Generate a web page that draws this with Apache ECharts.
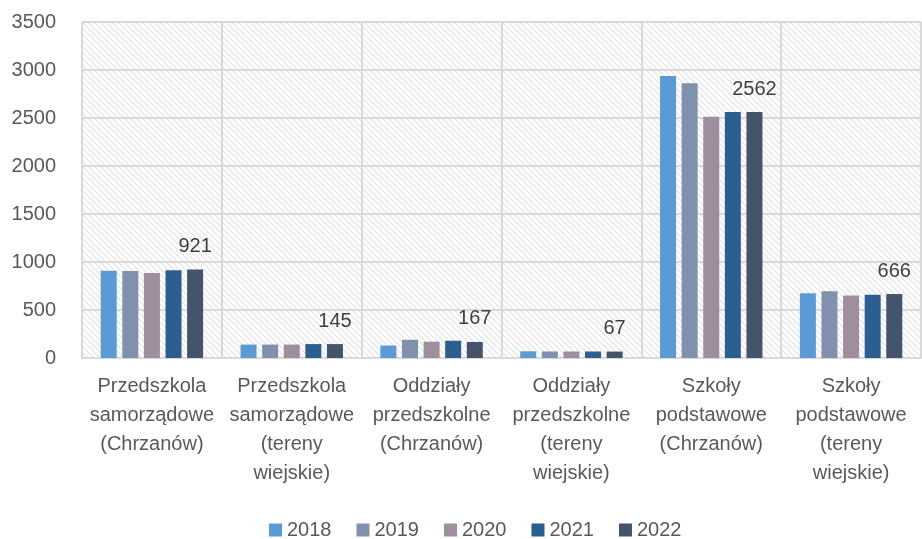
<!DOCTYPE html>
<html>
<head>
<meta charset="utf-8">
<script src="https://cdn.jsdelivr.net/npm/echarts@6/dist/echarts.min.js"></script>
<style>
  html, body { margin: 0; padding: 0; background: #fff; }
  #chart { width: 922px; height: 539px; }
</style>
</head>
<body>
<div id="chart"></div>
<script>
// dane
var categories = [
    'Przedszkola\nsamorządowe\n(Chrzanów)',
    'Przedszkola\nsamorządowe\n(tereny\nwiejskie)',
    'Oddziały\nprzedszkolne\n(Chrzanów)',
    'Oddziały\nprzedszkolne\n(tereny\nwiejskie)',
    'Szkoły\npodstawowe\n(Chrzanów)',
    'Szkoły\npodstawowe\n(tereny\nwiejskie)'
];
var years = ['2018', '2019', '2020', '2021', '2022'];
var v2018 = [910, 140, 130, 70, 2937, 675];
var v2019 = [905, 140, 190, 68, 2861, 695];
var v2020 = [885, 140, 170, 68, 2514, 650];
var v2021 = [915, 145, 180, 68, 2562, 660];
var v2022 = [921, 145, 167, 67, 2562, 666];
var colors = ['#5b9bd5', '#7f91ad', '#9e8e9e', '#2a5f8f', '#44546a'];

// tlo z kreskowaniem
function hatch() {
    var c = document.createElement('canvas');
    c.width = 6; c.height = 6;
    var ctx = c.getContext('2d');
    ctx.fillStyle = '#ffffff';
    ctx.fillRect(0, 0, 6, 6);
    ctx.strokeStyle = '#e2e2e2';
    ctx.lineWidth = 1.2;
    ctx.beginPath();
    ctx.moveTo(-1, -1); ctx.lineTo(7, 7);
    ctx.moveTo(-1, 5); ctx.lineTo(1, 7);
    ctx.moveTo(5, -1); ctx.lineTo(7, 1);
    ctx.stroke();
    return c;
}

var chart = echarts.init(document.getElementById('chart'));
var data = [v2018, v2019, v2020, v2021, v2022];
var series = [];
for (var i = 0; i < years.length; i++) {
    series.push({
        name: years[i],
        type: 'bar',
        data: data[i],
        barWidth: 16,
        barGap: '35%',
        itemStyle: { color: colors[i] },
        label: i == 4 ? {
            show: true,
            position: 'top',
            distance: 13,
            color: '#404040',
            fontSize: 20,
            fontFamily: 'Liberation Sans'
        } : { show: false }
    });
}

var option = {
    animation: false,
    color: colors,
    textStyle: { fontFamily: 'Liberation Sans' },
    grid: {
        left: 82, right: 1, top: 22, bottom: 181,
        show: true,
        borderWidth: 0,
        backgroundColor: { image: hatch(), repeat: 'repeat' }
    },
    legend: {
        top: 515,
        left: 264,
        itemWidth: 13,
        itemHeight: 13,
        itemGap: 25,
        icon: 'rect',
        textStyle: { fontSize: 20, color: '#595959' },
        data: years
    },
    xAxis: {
        type: 'category',
        data: categories,
        axisTick: { show: false },
        axisLine: { lineStyle: { color: '#d9d9d9', width: 2 } },
        splitLine: { show: true, lineStyle: { color: '#d9d9d9', width: 2 } },
        axisLabel: {
            interval: 0,
            fontSize: 20,
            lineHeight: 29,
            color: '#595959',
            margin: 14
        }
    },
    yAxis: {
        type: 'value',
        min: 0,
        max: 3500,
        interval: 500,
        axisLine: { show: false },
        axisTick: { show: false },
        splitLine: { lineStyle: { color: '#d9d9d9', width: 2 } },
        axisLabel: {
            fontSize: 20,
            color: '#595959',
            margin: 26,
            formatter: function (v) { return String(v); }
        }
    },
    series: series
};
chart.setOption(option);
</script>
</body>
</html>
